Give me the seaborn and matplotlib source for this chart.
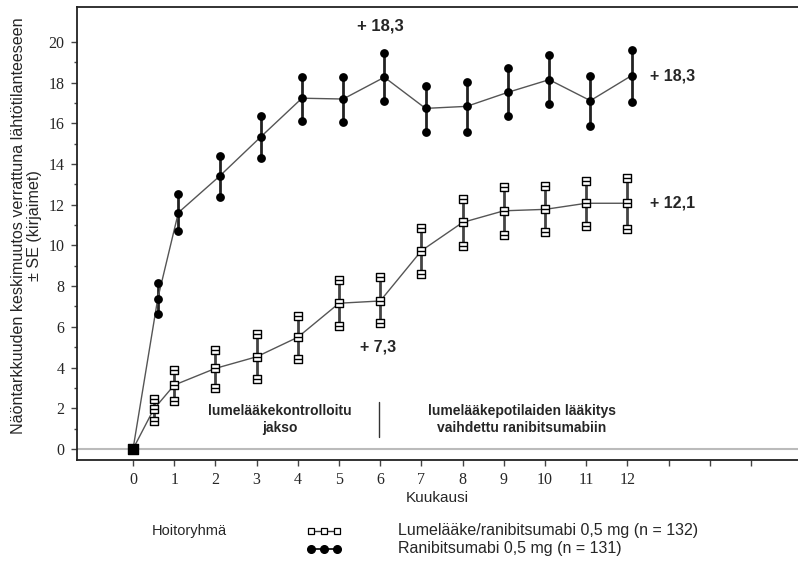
import numpy as np
import pandas as pd
import matplotlib
matplotlib.use('Agg')
import matplotlib.pyplot as plt
from matplotlib.lines import Line2D
import seaborn as sns

# Lumelääke/ranibitsumabi (squares)
sham_month = [0, 0.5, 1, 2, 3, 4, 5, 6, 7, 8, 9, 10, 11, 12]
sham_mean = [0, 1.95, 3.14, 3.96, 4.53, 5.49, 7.16, 7.27, 9.74, 11.13, 11.70, 11.77, 12.07, 12.07]
sham_upper = [0, 2.46, 3.88, 4.86, 5.63, 6.55, 8.30, 8.46, 10.85, 12.28, 12.85, 12.93, 13.18, 13.32]
sham_lower = [0, 1.38, 2.37, 3.01, 3.44, 4.41, 6.04, 6.17, 8.58, 9.99, 10.51, 10.64, 10.95, 10.81]

# Ranibitsumabi 0,5 mg (filled circles)
rani_month = [0, 0.6, 1.1, 2.1, 3.1, 4.1, 5.1, 6.1, 7.1, 8.1, 9.1, 10.1, 11.1, 12.1]
rani_mean = [0, 7.39, 11.61, 13.40, 15.33, 17.23, 17.19, 18.26, 16.73, 16.83, 17.52, 18.14, 17.11, 18.34]
rani_upper = [0, 8.13, 12.51, 14.40, 16.37, 18.29, 18.29, 19.44, 17.85, 18.05, 18.70, 19.36, 18.34, 19.62]
rani_lower = [0, 6.65, 10.70, 12.38, 14.27, 16.12, 16.04, 17.11, 15.58, 15.58, 16.34, 16.93, 15.85, 17.06]

sham_label = 'Lumelääke/ranibitsumabi 0,5 mg (n = 132)'
rani_label = 'Ranibitsumabi 0,5 mg (n = 131)'

sns.set_style('ticks')
plt.rcParams['font.family'] = ['Liberation Sans', 'DejaVu Sans']

fig = plt.figure(figsize=(7.98, 5.61), dpi=100)
ax = fig.add_axes([77 / 798, 1 - 460 / 561, 1 - 77 / 798, (460 - 7) / 561])

df_sham = pd.DataFrame({'month': sham_month, 'mean': sham_mean})
df_rani = pd.DataFrame({'month': rani_month, 'mean': rani_mean})

ax.axhline(0, color='#bbbbbb', lw=1.5, zorder=0)

# error bars
ax.vlines(sham_month, sham_lower, sham_upper, color='#444444', lw=2, zorder=2)
ax.vlines(rani_month, rani_lower, rani_upper, color='#222222', lw=2, zorder=2)

# connecting lines
sns.lineplot(data=df_sham, x='month', y='mean', color='#555555', lw=1, ax=ax, zorder=3)
sns.lineplot(data=df_rani, x='month', y='mean', color='#555555', lw=1, ax=ax, zorder=3)

# markers
for ys in (sham_mean, sham_upper, sham_lower):
    ax.scatter(sham_month[1:], ys[1:], marker='s', s=30, facecolor='white',
               edgecolor='black', lw=1, zorder=4)
    ax.scatter(sham_month[1:], ys[1:], marker='_', s=30, color='black', lw=1, zorder=5)
for ys in (rani_mean, rani_upper, rani_lower):
    ax.scatter(rani_month[1:], ys[1:], marker='o', s=40, color='black', lw=0, zorder=4)
ax.scatter([0], [0], marker='s', s=45, color='black', zorder=6)

ax.set_xlim(-1.36, 16.14)
ax.set_ylim(-0.54, 21.71)
ax.set_xticks(range(0, 16))
ax.set_xticklabels([str(i) if i <= 12 else '' for i in range(0, 16)],
                   family='Liberation Serif', fontsize=11.5)
ax.set_yticks(range(0, 21, 2))
ax.set_yticks(range(1, 21, 2), minor=True)
ax.set_yticklabels([str(i) for i in range(0, 21, 2)], family='Liberation Serif', fontsize=11.5)
ax.tick_params(axis='both', which='major', length=4, width=1, color='#444444', pad=5)
ax.tick_params(axis='y', which='minor', length=2, width=1, color='#444444')
ax.spines['right'].set_visible(False)
for s in ('left', 'top', 'bottom'):
    ax.spines[s].set_linewidth(1.3)
    ax.spines[s].set_color('#222222')

ax.set_xlabel('Kuukausi', fontsize=11, labelpad=2)
ax.set_ylabel('Näöntarkkuuden keskimuutos verrattuna lähtötilanteeseen\n± SE (kirjaimet)',
              fontsize=11.6, labelpad=0, linespacing=1.08)
ax.yaxis.set_label_coords(-0.048, 0.517)

# annotations
ax.text(6.0, 20.8, '+ 18,3', fontsize=12, fontweight='bold', ha='center', va='center')
ax.text(12.55, 18.3, '+ 18,3', fontsize=11.5, fontweight='bold', ha='left', va='center')
ax.text(12.55, 12.1, '+ 12,1', fontsize=11.5, fontweight='bold', ha='left', va='center')
ax.text(5.95, 5.0, '+ 7,3', fontsize=11.5, fontweight='bold', ha='center', va='center')

ax.text(3.57, 1.45, 'lumelääkekontrolloitu\njakso', fontsize=10, fontweight='bold',
        ha='center', va='center', linespacing=1.2)
ax.text(9.44, 1.45, 'lumelääkepotilaiden lääkitys\nvaihdettu ranibitsumabiin', fontsize=10,
        fontweight='bold', ha='center', va='center', linespacing=1.2)
ax.plot([5.97, 5.97], [0.6, 2.3], color='#333333', lw=1)

# legend below the plot
fig.text(152 / 798, 1 - 531 / 561, 'Hoitoryhmä', fontsize=10.5, va='center')
fig.text(398 / 798, 1 - 531 / 561, sham_label, fontsize=11.5, va='center')
fig.text(398 / 798, 1 - 549 / 561, rani_label, fontsize=11.5, va='center')
xs = np.array([311, 324, 337]) / 798
fig.add_artist(Line2D(xs, [1 - 531 / 561] * 3, color='#333333', lw=1, marker='s', ms=5,
                      mfc='white', mec='black', mew=0.9))
fig.add_artist(Line2D(xs, [1 - 549 / 561] * 3, color='black', lw=1.2, marker='o', ms=5.5,
                      mfc='black', mec='black'))

fig.savefig('out.png', dpi=100)
